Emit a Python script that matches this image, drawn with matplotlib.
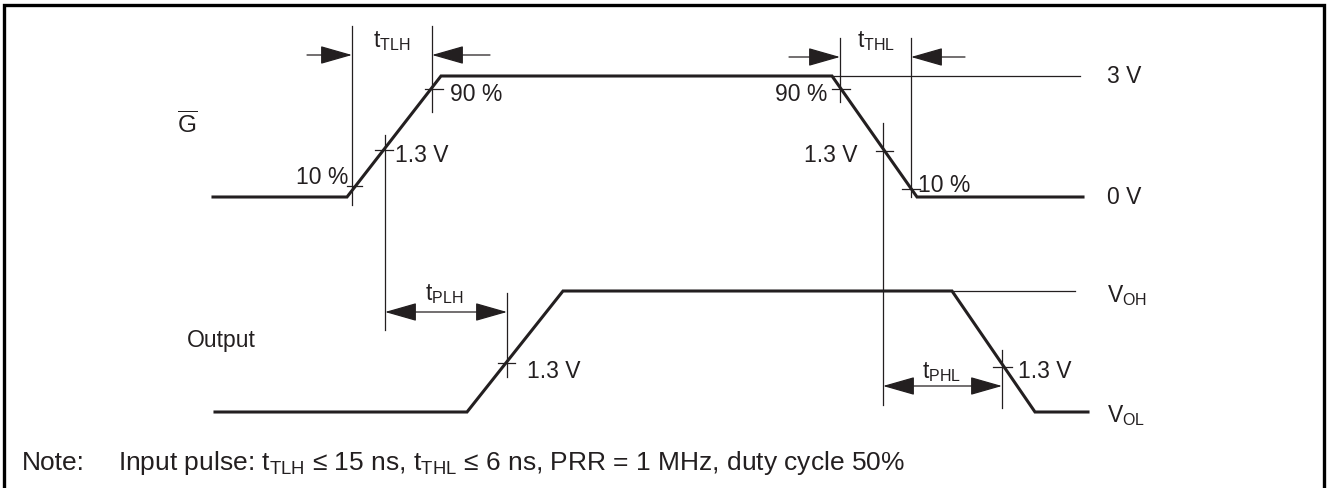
import matplotlib
matplotlib.use("Agg")
import matplotlib.pyplot as plt
from matplotlib.patches import FancyArrowPatch

plt.rcParams['font.family'] = ['Liberation Sans', 'DejaVu Sans']
plt.rcParams['mathtext.fontset'] = 'custom'
plt.rcParams['mathtext.rm'] = 'Liberation Sans'
plt.rcParams['mathtext.it'] = 'Liberation Sans'
plt.rcParams['mathtext.bf'] = 'Liberation Sans:bold'

# ---- data (diagram coordinates, pixel-like units; y grows downward) ----
# G (input) waveform breakpoints
g_t = [213, 347, 441, 832, 917, 1083]
g_v = [197, 197, 76, 76, 197, 197]
# Output waveform breakpoints
o_t = [215, 467, 563, 952, 1035, 1088]
o_v = [412, 412, 291, 291, 412, 412]

# level labels
level_labels = ['3 V', '0 V', r'V$_{\mathrm{OH}}$', r'V$_{\mathrm{OL}}$']
level_label_y = [83, 204, 302, 422]

# timing names
t_names = [r't$_{\mathrm{TLH}}$', r't$_{\mathrm{THL}}$', r't$_{\mathrm{PLH}}$', r't$_{\mathrm{PHL}}$']

note_label = 'Note:'
note_text = (r'Input pulse: t$_{\mathrm{TLH}}$ ≤ 15 ns, t$_{\mathrm{THL}}$ ≤ 6 ns, '
             'PRR = 1 MHz, duty cycle 50%')

INK = '#231f20'
FS = 16.5
NOTE_FS = 19
THIN = 0.9
THICK = 2.2

fig = plt.figure(figsize=(13.28, 4.88), dpi=100)
ax = fig.add_axes([0, 0, 1, 1])
ax.set_xlim(0, 1328)
ax.set_ylim(488, 0)
ax.axis('off')

# frame
ax.plot([4, 4, 1324, 1324], [495, 5, 5, 495], color='black', lw=2.4,
        solid_joinstyle='miter', clip_on=False)

# waveforms
ax.plot(g_t, g_v, color=INK, lw=THICK, solid_joinstyle='miter')
ax.plot(o_t, o_v, color=INK, lw=THICK, solid_joinstyle='miter')

def thin(xs, ys):
    ax.plot(xs, ys, color=INK, lw=THIN)

# reference lines
thin([832, 1080], [76, 76])
thin([952, 1075], [291, 291])

# vertical guide lines
thin([352, 352], [26, 205])
thin([432, 432], [26, 112])
thin([385, 385], [135, 330])
thin([840, 840], [38, 102])
thin([911, 911], [38, 197])
thin([883, 883], [123, 405])
thin([507, 507], [293, 377])
thin([1002, 1002], [350, 408])

# small tick crosses
thin([347, 362], [186, 186])
thin([375, 393], [150, 150])
thin([425, 443], [89, 89])
thin([832, 850], [89, 89])
thin([876, 893], [151, 151])
thin([902, 920], [189, 189])
thin([498, 515], [363, 363])
thin([993, 1012], [367, 367])

HL = 28 * 0.72
HW = 8 * 0.72

def arrow(x0, x1, y, style='-|>'):
    a = FancyArrowPatch((x0, y), (x1, y),
                        arrowstyle=f'{style},head_length={HL},head_width={HW}',
                        mutation_scale=1, shrinkA=0, shrinkB=0,
                        color=INK, lw=THIN)
    ax.add_patch(a)

arrow(307, 352, 55)
arrow(490, 432, 55)
arrow(789, 840, 57)
arrow(965, 911, 57)
arrow(385, 507, 312, '<|-|>')
arrow(883, 1002, 386, '<|-|>')

def txt(x, y, s, ha='left', size=FS):
    ax.text(x, y, s, ha=ha, va='baseline', fontsize=size, color=INK)

# percentage / voltage labels
txt(450, 101, '90 %')
txt(395, 162, '1.3 V')
txt(348, 184, '10 %', ha='right')
txt(827, 101, '90 %', ha='right')
txt(857, 162, '1.3 V', ha='right')
txt(918, 192, '10 %')
txt(527, 378, '1.3 V')
txt(1018, 378, '1.3 V')

# level labels
for s, y in zip(level_labels, level_label_y):
    txt(1107, y, s)

# timing names
txt(373, 47, t_names[0])
txt(857, 47, t_names[1])
txt(425, 300, t_names[2])
txt(922, 378, t_names[3])

# signal names
txt(177, 133, r'$\overline{\mathrm{G}}$', size=17.5)
txt(187, 347, 'Output')

# note
txt(22, 470, note_label, size=NOTE_FS)
txt(118, 470, note_text, size=NOTE_FS)

fig.savefig('out.png', dpi=100)
